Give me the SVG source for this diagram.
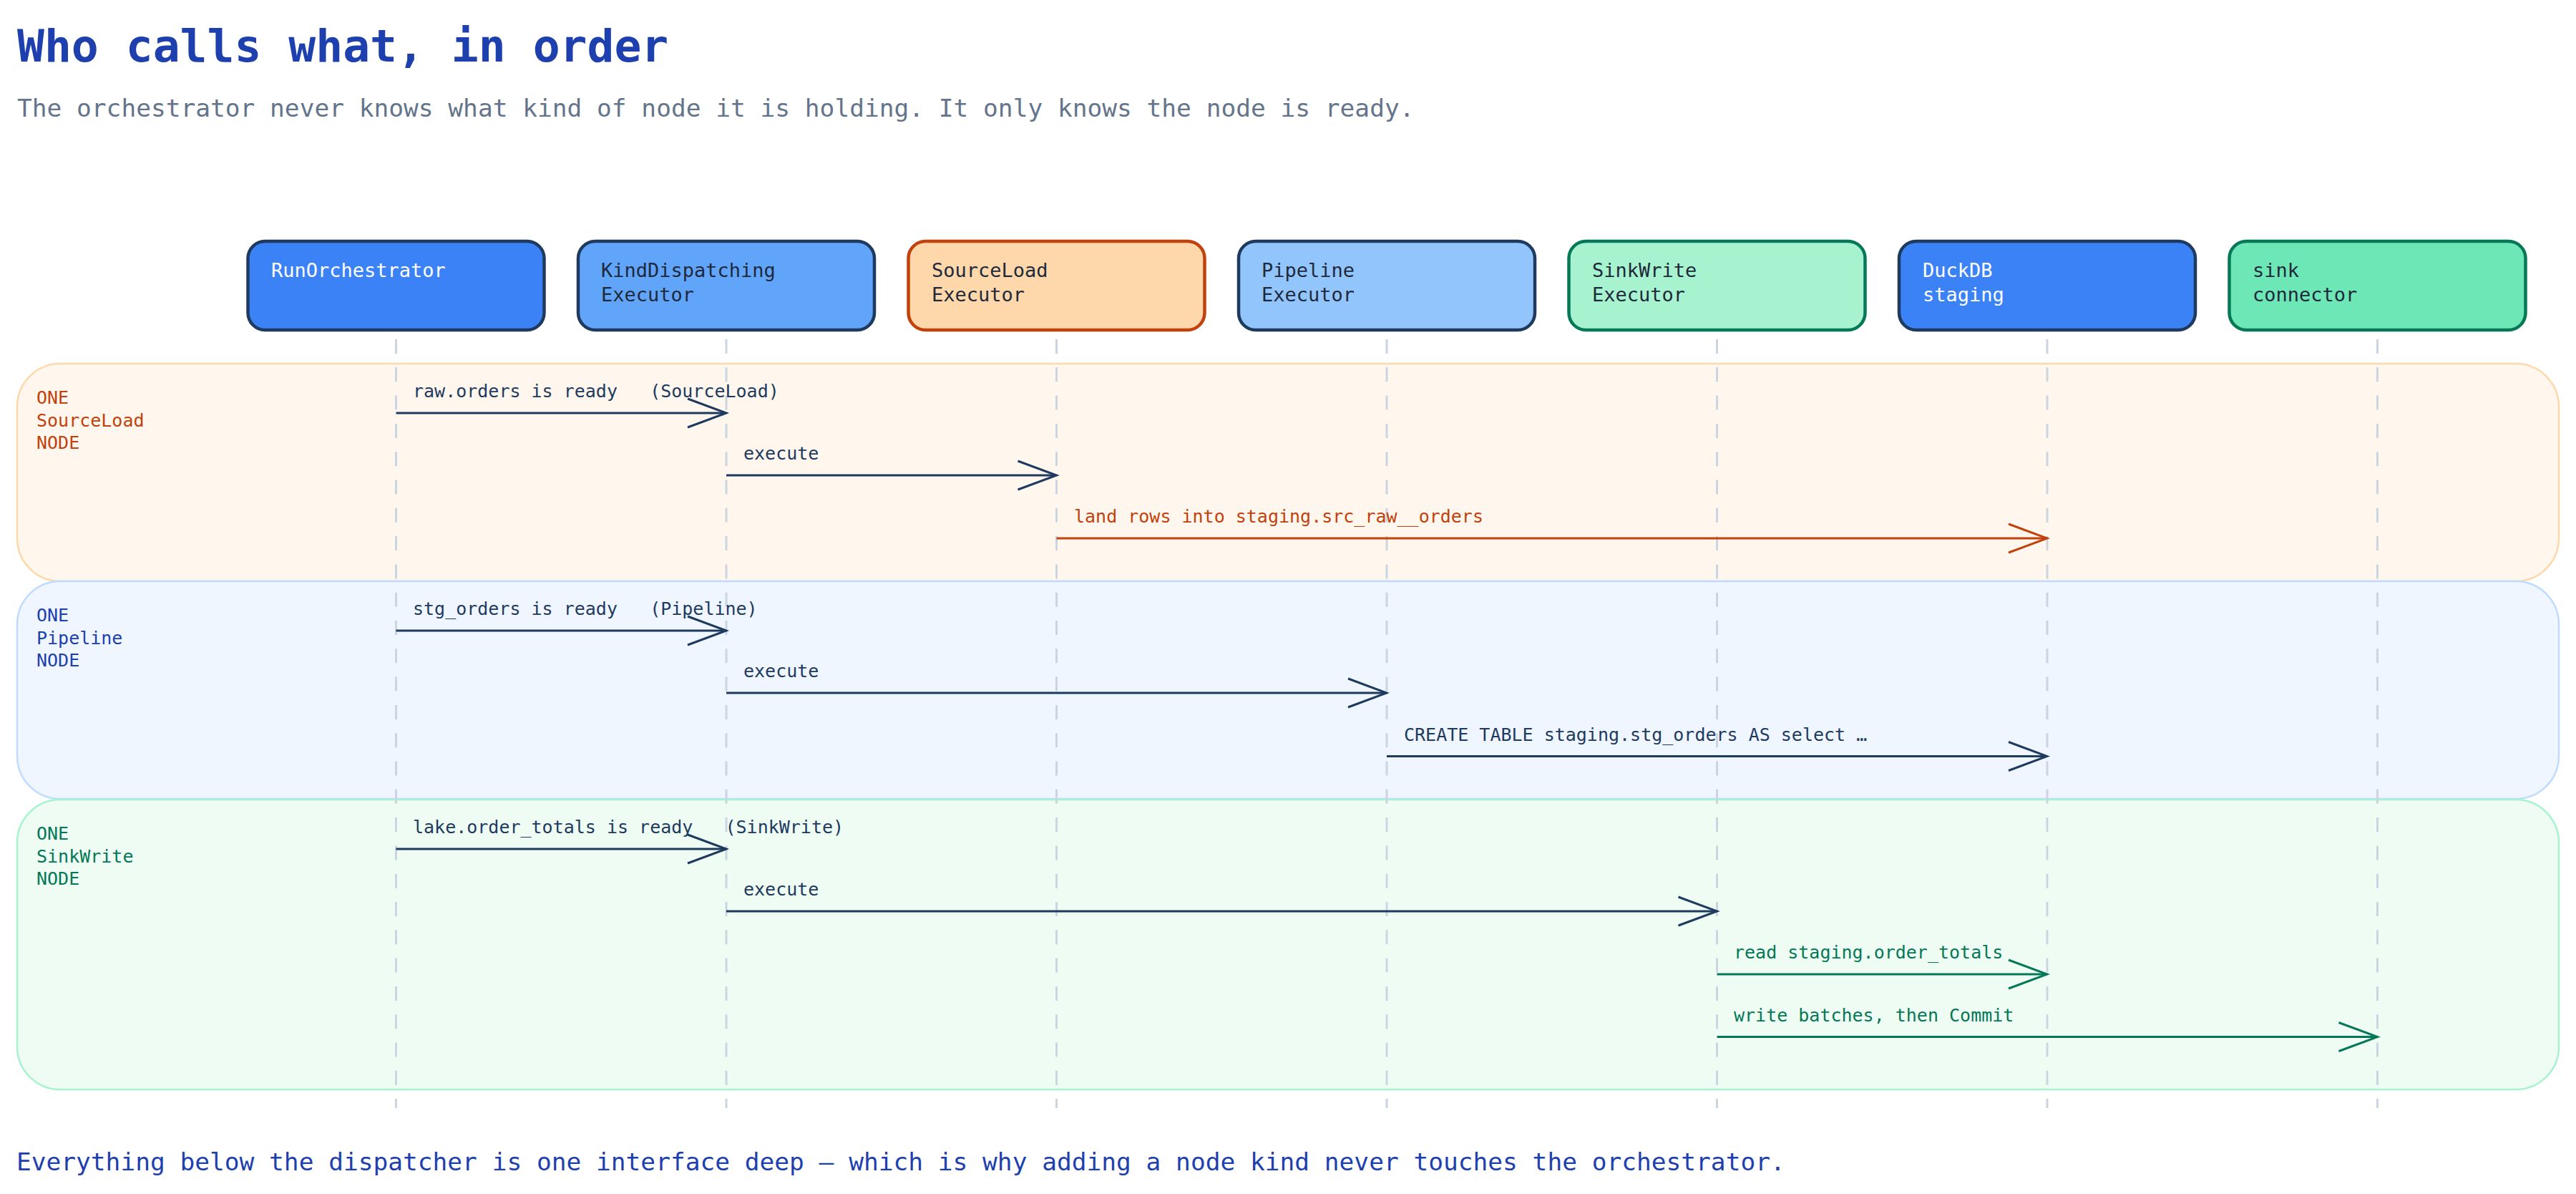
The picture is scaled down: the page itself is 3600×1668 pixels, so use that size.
<svg xmlns="http://www.w3.org/2000/svg" width="3600" height="1668" viewBox="0 0 3600 1668">
<style>
text{font-family:"DejaVu Sans Mono","Liberation Mono",monospace}
.title{font-size:63px;font-weight:bold;fill:#1e40af}
.sub{font-size:34.5px;fill:#64748b}
.foot{font-size:34.5px;fill:#1e40af}
.nt{font-size:27px;fill:#1e293b}
.nw{font-size:27px;fill:#ffffff}
.box{stroke-width:4.5}
.lane{stroke-width:2.5}
.ll{font-size:25px}
.life{stroke:#cbd5e1;stroke-width:3;stroke-dasharray:20 19.3;fill:none}
.msg{font-size:25px}
.arr{stroke-width:3;fill:none}
.navy{stroke:#1e3a5f}
.org{stroke:#c2410c}
.grn{stroke:#047857}
</style>
<defs>
<marker id="hNavy" markerUnits="userSpaceOnUse" viewBox="-58 -24 62 48" markerWidth="62" markerHeight="48" refX="0" refY="0" orient="auto"><path d="M-54,-20 L0,0 L-54,20" fill="none" stroke="#1e3a5f" stroke-width="3"/></marker>
<marker id="hOrg" markerUnits="userSpaceOnUse" viewBox="-58 -24 62 48" markerWidth="62" markerHeight="48" refX="0" refY="0" orient="auto"><path d="M-54,-20 L0,0 L-54,20" fill="none" stroke="#c2410c" stroke-width="3"/></marker>
<marker id="hGrn" markerUnits="userSpaceOnUse" viewBox="-58 -24 62 48" markerWidth="62" markerHeight="48" refX="0" refY="0" orient="auto"><path d="M-54,-20 L0,0 L-54,20" fill="none" stroke="#047857" stroke-width="3"/></marker>
</defs>
<rect width="3600" height="1668" fill="#ffffff"/>
<text class="title" x="24" y="86">Who calls what, in order</text>
<text class="sub" x="24" y="163">The orchestrator never knows what kind of node it is holding. It only knows the node is ready.</text>

<g id="lanes">
<g id="lane-sourceload">
<rect class="lane" x="24" y="508" width="3552" height="304" rx="60" fill="#fff7ed" stroke="#fed7aa"/>
<text class="ll" fill="#c2410c"><tspan x="51" y="564">ONE</tspan><tspan x="51" y="596">SourceLoad</tspan><tspan x="51" y="627">NODE</tspan></text>
</g>
<g id="lane-pipeline">
<rect class="lane" x="24" y="812" width="3552" height="304" rx="60" fill="#eff6ff" stroke="#bfdbfe"/>
<text class="ll" fill="#1e40af"><tspan x="51" y="868">ONE</tspan><tspan x="51" y="900">Pipeline</tspan><tspan x="51" y="931">NODE</tspan></text>
</g>
<g id="lane-sinkwrite">
<rect class="lane" x="24" y="1117" width="3552" height="405" rx="60" fill="#eefcf3" stroke="#a7f3d0"/>
<text class="ll" fill="#047857"><tspan x="51" y="1173">ONE</tspan><tspan x="51" y="1205">SinkWrite</tspan><tspan x="51" y="1236">NODE</tspan></text>
</g>
</g>

<g id="lifelines">
<line class="life" x1="553.5" y1="474" x2="553.5" y2="1548"/>
<line class="life" x1="1015" y1="474" x2="1015" y2="1548"/>
<line class="life" x1="1476.5" y1="474" x2="1476.5" y2="1548"/>
<line class="life" x1="1938" y1="474" x2="1938" y2="1548"/>
<line class="life" x1="2399.5" y1="474" x2="2399.5" y2="1548"/>
<line class="life" x1="2861" y1="474" x2="2861" y2="1548"/>
<line class="life" x1="3322.5" y1="474" x2="3322.5" y2="1548"/>
</g>

<g id="n-runorchestrator">
<rect class="box" x="346.5" y="337" width="414" height="124" rx="24" fill="#3b82f6" stroke="#1e3a5f"/>
<text class="nw" x="379" y="387">RunOrchestrator</text>
</g>
<g id="n-kinddispatching">
<rect class="box" x="808" y="337" width="414" height="124" rx="24" fill="#60a5fa" stroke="#1e3a5f"/>
<text class="nt"><tspan x="840" y="387">KindDispatching</tspan><tspan x="840" y="421">Executor</tspan></text>
</g>
<g id="n-sourceload">
<rect class="box" x="1269.5" y="337" width="414" height="124" rx="24" fill="#fed7aa" stroke="#c2410c"/>
<text class="nt"><tspan x="1302" y="387">SourceLoad</tspan><tspan x="1302" y="421">Executor</tspan></text>
</g>
<g id="n-pipeline">
<rect class="box" x="1731" y="337" width="414" height="124" rx="24" fill="#93c5fd" stroke="#1e3a5f"/>
<text class="nt"><tspan x="1763" y="387">Pipeline</tspan><tspan x="1763" y="421">Executor</tspan></text>
</g>
<g id="n-sinkwrite">
<rect class="box" x="2192.5" y="337" width="414" height="124" rx="24" fill="#a7f3d0" stroke="#047857"/>
<text class="nt"><tspan x="2225" y="387">SinkWrite</tspan><tspan x="2225" y="421">Executor</tspan></text>
</g>
<g id="n-duckdb">
<rect class="box" x="2654" y="337" width="414" height="124" rx="24" fill="#3b82f6" stroke="#1e3a5f"/>
<text class="nw"><tspan x="2687" y="387">DuckDB</tspan><tspan x="2687" y="421">staging</tspan></text>
</g>
<g id="n-sink">
<rect class="box" x="3115.5" y="337" width="414" height="124" rx="24" fill="#6ee7b7" stroke="#047857"/>
<text class="nt"><tspan x="3148" y="387">sink</tspan><tspan x="3148" y="421">connector</tspan></text>
</g>

<g id="connectors">
<line class="arr navy" x1="553.5" y1="577" x2="1015" y2="577" marker-end="url(#hNavy)"/>
<text class="msg" fill="#1e3a5f" x="577" y="555" xml:space="preserve">raw.orders is ready   (SourceLoad)</text>
<line class="arr navy" x1="1015" y1="664" x2="1476.5" y2="664" marker-end="url(#hNavy)"/>
<text class="msg" fill="#1e3a5f" x="1039" y="642">execute</text>
<line class="arr org" x1="1476.5" y1="752" x2="2861" y2="752" marker-end="url(#hOrg)"/>
<text class="msg" fill="#c2410c" x="1501" y="730">land rows into staging.src_raw__orders</text>

<line class="arr navy" x1="553.5" y1="881" x2="1015" y2="881" marker-end="url(#hNavy)"/>
<text class="msg" fill="#1e3a5f" x="577" y="859" xml:space="preserve">stg_orders is ready   (Pipeline)</text>
<line class="arr navy" x1="1015" y1="968" x2="1938" y2="968" marker-end="url(#hNavy)"/>
<text class="msg" fill="#1e3a5f" x="1039" y="946">execute</text>
<line class="arr navy" x1="1938" y1="1056.5" x2="2861" y2="1056.5" marker-end="url(#hNavy)"/>
<text class="msg" fill="#1e3a5f" x="1962" y="1035">CREATE TABLE staging.stg_orders AS select …</text>

<line class="arr navy" x1="553.5" y1="1186" x2="1015" y2="1186" marker-end="url(#hNavy)"/>
<text class="msg" fill="#1e3a5f" x="577" y="1164" xml:space="preserve">lake.order_totals is ready   (SinkWrite)</text>
<line class="arr navy" x1="1015" y1="1273" x2="2399.5" y2="1273" marker-end="url(#hNavy)"/>
<text class="msg" fill="#1e3a5f" x="1039" y="1251">execute</text>
<line class="arr grn" x1="2399.5" y1="1361" x2="2861" y2="1361" marker-end="url(#hGrn)"/>
<text class="msg" fill="#047857" x="2423" y="1339">read staging.order_totals</text>
<line class="arr grn" x1="2399.5" y1="1448.5" x2="3322.5" y2="1448.5" marker-end="url(#hGrn)"/>
<text class="msg" fill="#047857" x="2423" y="1427">write batches, then Commit</text>
</g>

<text class="foot" x="23" y="1635">Everything below the dispatcher is one interface deep — which is why adding a node kind never touches the orchestrator.</text>
</svg>
